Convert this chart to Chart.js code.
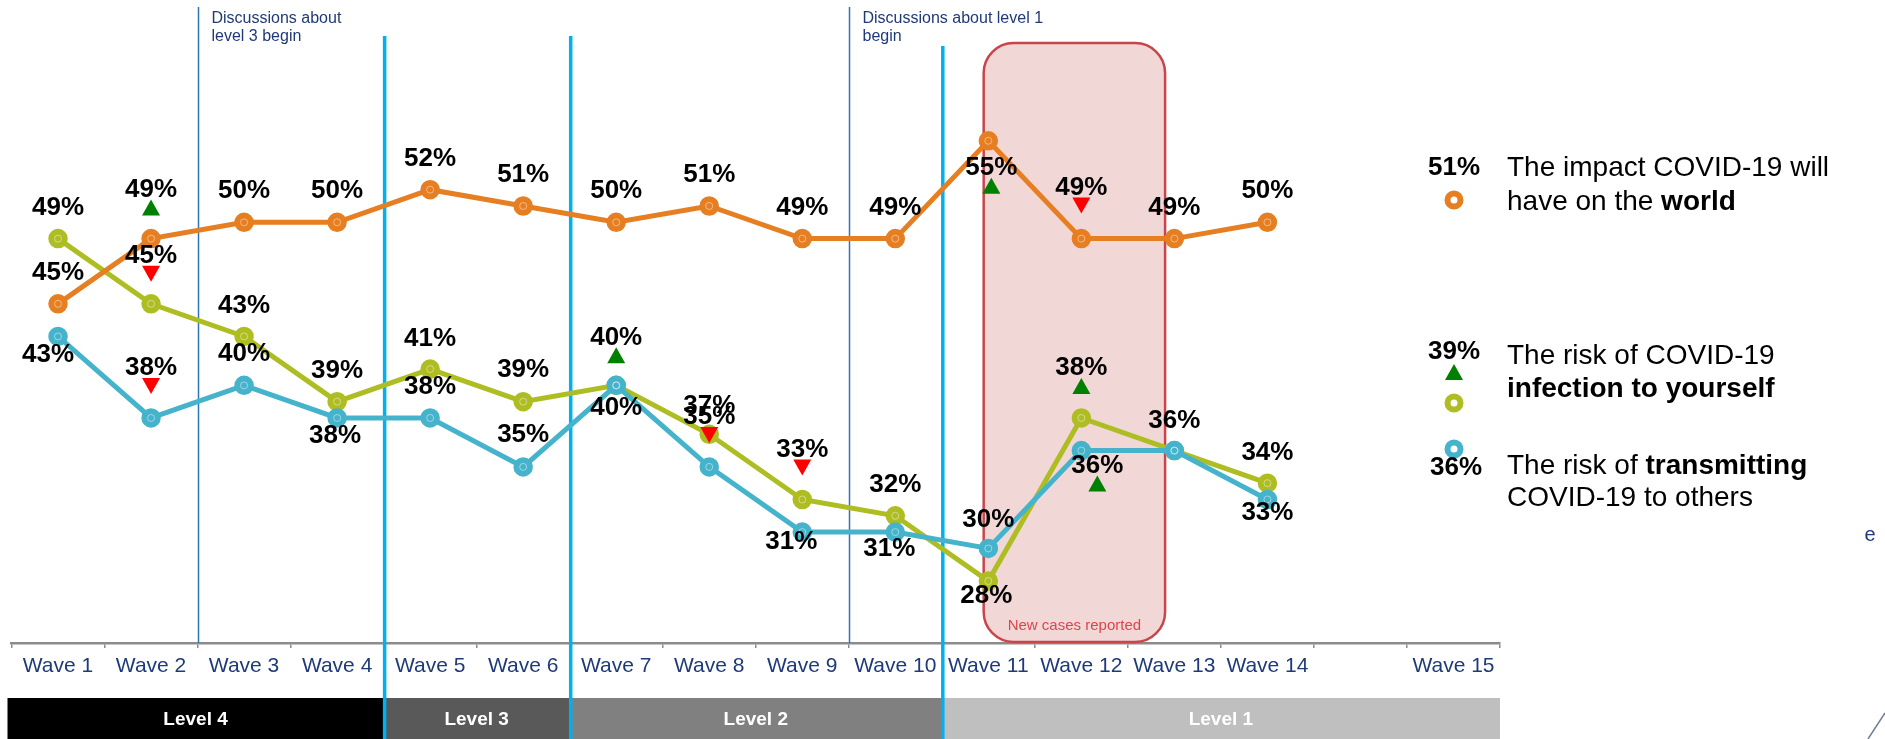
<!DOCTYPE html>
<html>
<head>
<meta charset="utf-8">
<title>COVID-19 concern by wave</title>
<script src="https://cdn.jsdelivr.net/npm/chart.js@4.4.1/dist/chart.umd.min.js"></script>
<style>
  html, body { margin: 0; padding: 0; background: #fff; }
  canvas { display: block; }
</style>
</head>
<body>
<canvas id="chart" width="1885" height="739"></canvas>
<script>
// survey waves (one empty slot before the last wave)
const waves = ["Wave 1", "Wave 2", "Wave 3", "Wave 4", "Wave 5", "Wave 6", "Wave 7",
  "Wave 8", "Wave 9", "Wave 10", "Wave 11", "Wave 12", "Wave 13", "Wave 14", "", "Wave 15"];

// % concerned, per wave
const world    = [45, 49, 50, 50, 52, 51, 50, 51, 49, 49, 55, 49, 49, 50];
const yourself = [49, 45, 43, 39, 41, 39, 40, 37, 33, 32, 28, 38, 36, 34];
const others   = [43, 38, 40, 38, 38, 35, 40, 35, 31, 31, 30, 36, 36, 33];

// significant change vs previous wave
const worldSig    = [null, "up", null, null, null, null, null, null, null, null, "up", "down", null, null];
const yourselfSig = [null, "down", null, null, null, null, null, null, "down", null, null, "up", null, null];
const othersSig   = [null, "down", null, null, null, null, "up", "down", null, null, null, "up", null, null];

// label placement relative to each point (px); null = no label
const worldLabelDy    = [-31, -49, -31, -31, -31, -31, -31, -31, -31, -31, 27, -51, -31, -31];
const worldLabelDx    = [0, 0, 0, 0, 0, 0, 0, 0, 0, 0, 3, 0, 0, 0];
const yourselfLabelDy = [-31, -48, -31, -31, -30, -32, 22, -28, -50, -31, 15, -50, -30, -30];
const yourselfLabelDx = [0, 0, 0, 0, 0, 0, 0, 0, 0, 0, -2, 0, 0, 0];
const othersLabelDy   = [18, -50, -32, 18, -31, -32, -48, -50, 10, 17, -29, 15, null, 13];
const othersLabelDx   = [-10, 0, 0, -2, 0, 0, 0, 0, -11, -6, 0, 16, 0, 0];

// alert levels, by wave boundary
const levelNames  = ["Level 4", "Level 3", "Level 2", "Level 1"];
const levelBounds = [0, 4, 6, 10, 16];
const levelColors = ["#000000", "#595959", "#808080", "#BFBFBF"];

// annotations
const discussionAt   = [2, 9];
const discussionText = [["Discussions about", "level 3 begin"], ["Discussions about level 1", "begin"]];
const newCasesSpan   = [9.95, 11.9];

const legendValues = ["51%", "39%", "36%"];

const FONT = "'Liberation Sans', Arial, sans-serif";
const NAVY = "#1F3A78";
const ORANGE = "#E67E22", LIME = "#AEBD22", TEAL = "#45B3CB";
const CYAN = "#00B0F0", RULE = "#2E75B6";

function edge(scale, i) {
    return scale.getPixelForValue(i - 0.5);
}

function triangle(ctx, cx, cy, dir) {
    const w = 18, h = 16;
    ctx.beginPath();
    if (dir === "up") {
        ctx.moveTo(cx, cy - h / 2);
        ctx.lineTo(cx + w / 2, cy + h / 2);
        ctx.lineTo(cx - w / 2, cy + h / 2);
        ctx.fillStyle = "#008000";
    } else {
        ctx.moveTo(cx - w / 2, cy - h / 2);
        ctx.lineTo(cx + w / 2, cy - h / 2);
        ctx.lineTo(cx, cy + h / 2);
        ctx.fillStyle = "#FF0000";
    }
    ctx.closePath();
    ctx.fill();
}

function ring(ctx, cx, cy, color) {
    ctx.beginPath();
    ctx.arc(cx, cy, 6.5, 0, Math.PI * 2);
    ctx.strokeStyle = color;
    ctx.lineWidth = 6;
    ctx.stroke();
}

// text made of plain and bold runs
function richLine(ctx, parts, x, y, size) {
    ctx.fillStyle = "#000";
    ctx.textAlign = "left";
    ctx.textBaseline = "middle";
    parts.forEach(([text, bold]) => {
        ctx.font = (bold ? "bold " : "") + size + "px " + FONT;
        ctx.fillText(text, x, y);
        x += ctx.measureText(text).width;
    });
}

function value(ctx, text, x, y) {
    ctx.fillStyle = "#000";
    ctx.font = "bold 26px " + FONT;
    ctx.textAlign = "center";
    ctx.textBaseline = "middle";
    ctx.fillText(text, x, y);
}

const backdrop = {
    id: "backdrop",
    beforeDatasetsDraw(chart) {
        const { ctx, chartArea, scales: { x } } = chart;
        const H = chart.height;
        ctx.save();

        // level bar under the axis
        for (let i = 0; i < levelNames.length; i++) {
            const l = i === 0 ? chartArea.left - 4 : edge(x, levelBounds[i]);
            const r = edge(x, levelBounds[i + 1]);
            ctx.fillStyle = levelColors[i];
            ctx.fillRect(l, 698, r - l, H - 698);
            ctx.fillStyle = "#fff";
            ctx.font = "bold 19px " + FONT;
            ctx.textAlign = "center";
            ctx.textBaseline = "middle";
            ctx.fillText(levelNames[i], (l + r) / 2, 720);
        }

        // new cases box
        const bl = x.getPixelForValue(newCasesSpan[0]);
        const br = x.getPixelForValue(newCasesSpan[1]);
        const bt = chartArea.top + 18, bb = chartArea.bottom - 1;
        ctx.beginPath();
        ctx.roundRect(bl, bt, br - bl, bb - bt, 30);
        ctx.fillStyle = "#F2D7D7";
        ctx.fill();
        ctx.strokeStyle = "#C9454A";
        ctx.lineWidth = 2.5;
        ctx.stroke();
        ctx.fillStyle = "#D9474C";
        ctx.font = "15px " + FONT;
        ctx.textAlign = "center";
        ctx.textBaseline = "middle";
        ctx.fillText("New cases reported", (bl + br) / 2, 626);

        // discussion markers
        discussionAt.forEach((b, i) => {
            const px = Math.round(edge(x, b)) + 0.5;
            ctx.beginPath();
            ctx.moveTo(px, 7);
            ctx.lineTo(px, chartArea.bottom);
            ctx.strokeStyle = RULE;
            ctx.lineWidth = 1.5;
            ctx.stroke();
            ctx.fillStyle = NAVY;
            ctx.font = "16px " + FONT;
            ctx.textAlign = "left";
            discussionText[i].forEach((t, k) => ctx.fillText(t, px + 13, 19 + k * 18));
        });

        // level changes
        [4, 6, 10].forEach((b, i) => {
            const px = edge(x, b) + 1;
            ctx.beginPath();
            ctx.moveTo(px, i === 2 ? 46 : 36);
            ctx.lineTo(px, H);
            ctx.strokeStyle = CYAN;
            ctx.lineWidth = 3.5;
            ctx.stroke();
        });
        ctx.restore();
    }
};

const valueLabels = {
    id: "valueLabels",
    afterDatasetsDraw(chart) {
        const { ctx } = chart;
        const sets = [
            [world, worldSig, worldLabelDy, worldLabelDx],
            [yourself, yourselfSig, yourselfLabelDy, yourselfLabelDx],
            [others, othersSig, othersLabelDy, othersLabelDx]
        ];
        ctx.save();
        // faint highlight inside each marker
        [2, 0, 1].forEach(d => {
            chart.getDatasetMeta(d).data.forEach(pt => {
                ctx.beginPath();
                ctx.arc(pt.x, pt.y, 3.5, 0, Math.PI * 2);
                ctx.strokeStyle = "rgba(255,255,255,0.45)";
                ctx.lineWidth = 1;
                ctx.stroke();
            });
        });
        sets.forEach(([vals, sig, dy, dx], d) => {
            const meta = chart.getDatasetMeta(d);
            vals.forEach((v, i) => {
                if (dy[i] === null) return;
                const pt = meta.data[i];
                const lx = pt.x + dx[i], ly = pt.y + dy[i];
                if (sig[i]) triangle(ctx, lx, ly + 18, sig[i]);
                value(ctx, v + "%", lx, ly);
            });
        });
        ctx.restore();
    }
};

const sideLegend = {
    id: "sideLegend",
    afterDraw(chart) {
        const { ctx } = chart;
        const vx = 1454, tx = 1507;
        ctx.save();

        value(ctx, legendValues[0], vx, 168);
        ring(ctx, vx, 200, ORANGE);
        richLine(ctx, [["The impact COVID-19 will", false]], tx, 168, 28);
        richLine(ctx, [["have on the ", false], ["world", true]], tx, 202, 28);

        value(ctx, legendValues[1], vx, 352);
        triangle(ctx, vx, 372, "up");
        ring(ctx, vx, 403, LIME);
        richLine(ctx, [["The risk of COVID-19", false]], tx, 356, 28);
        richLine(ctx, [["infection to yourself", true]], tx, 389, 28);

        ring(ctx, vx, 449, TEAL);
        value(ctx, legendValues[2], vx + 2, 468);
        richLine(ctx, [["The risk of ", false], ["transmitting", true]], tx, 466, 28);
        richLine(ctx, [["COVID-19 to others", false]], tx, 498, 28);

        ctx.fillStyle = NAVY;
        ctx.font = "20px " + FONT;
        ctx.textAlign = "center";
        ctx.fillText("e", 1870, 535);

        ctx.beginPath();
        ctx.moveTo(1868, 739);
        ctx.lineTo(1885, 713);
        ctx.strokeStyle = "#6F7C99";
        ctx.lineWidth = 1.5;
        ctx.stroke();
        ctx.restore();
    }
};

function series(label, data, color, order) {
    return {
        label: label,
        data: data,
        borderColor: color,
        backgroundColor: color,
        borderWidth: 5,
        pointRadius: 8,
        pointBorderWidth: 3.5,
        pointBackgroundColor: color,
        pointBorderColor: color,
        tension: 0,
        order: order
    };
}

new Chart(document.getElementById("chart").getContext("2d"), {
    type: "line",
    data: {
        labels: waves,
        datasets: [
            series("The impact COVID-19 will have on the world", world, ORANGE, 2),
            series("The risk of COVID-19 infection to yourself", yourself, LIME, 3),
            series("The risk of transmitting COVID-19 to others", others, TEAL, 1)
        ]
    },
    options: {
        responsive: false,
        animation: false,
        layout: { padding: { left: 10, right: 385, top: 25, bottom: 46 } },
        plugins: { legend: { display: false }, tooltip: { enabled: false } },
        scales: {
            x: {
                offset: true,
                grid: { offset: true, drawOnChartArea: false, drawTicks: true, tickLength: 5, color: "#8C8C8C", lineWidth: 1.5 },
                border: { display: true, color: "#8C8C8C", width: 2.5 },
                ticks: { color: NAVY, font: { family: FONT, size: 21 }, padding: 6, autoSkip: false, maxRotation: 0 },
                afterFit(scale) { scale.height = 50; }
            },
            y: { display: false, min: 24.2, max: 62.1 }
        }
    },
    plugins: [backdrop, valueLabels, sideLegend]
});
</script>
</body>
</html>
